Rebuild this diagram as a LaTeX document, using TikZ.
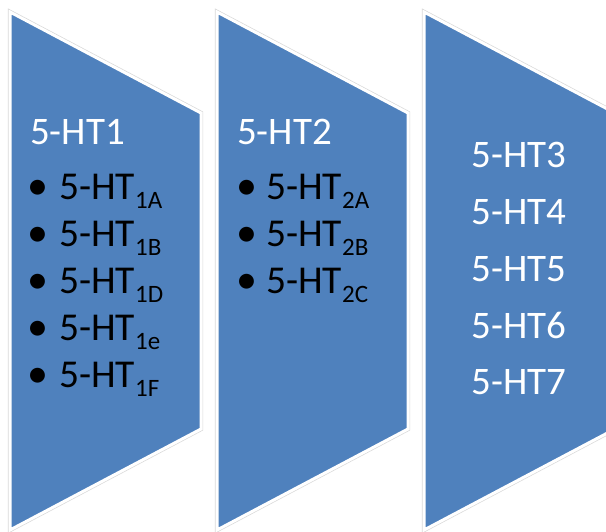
\documentclass[tikz,border=0pt]{standalone}
\usepackage{fontspec}
\setmainfont{Carlito}
\definecolor{htblue}{RGB}{79,129,189}
\newcommand{\htsub}[1]{\raisebox{-9pt}{\fontsize{25}{25}\selectfont #1}}

\begin{document}
\begin{tikzpicture}[x=1pt, y=-1pt,
  chevron/.style={fill=htblue, draw=white, line width=3pt, line join=miter},
  rim/.style={draw=black!15, line width=4.4pt, line join=miter},
  head/.style={inner sep=0pt, text=white, font=\fontsize{39}{39}\selectfont},
  item/.style={anchor=base west, inner sep=0pt, font=\fontsize{39.5}{39.5}\selectfont},
  dot/.style={anchor=base, inner sep=0pt, font=\fontsize{42}{42}\selectfont}
]
  \useasboundingbox (0,0) rectangle (606,532);
  \clip (0,0) rectangle (606,532);

  % the three chevrons
  \draw[rim] (10,12) -- (201,113) -- (201,429) -- (10,530) -- cycle;
  \draw[chevron] (10,12) -- (201,113) -- (201,429) -- (10,530) -- cycle;
  \draw[rim] (217,12) -- (408,113) -- (408,429) -- (217,530) -- cycle;
  \draw[chevron] (217,12) -- (408,113) -- (408,429) -- (217,530) -- cycle;
  \draw[rim] (424,12) -- (615,113) -- (615,429) -- (424,530) -- cycle;
  \draw[chevron] (424,12) -- (615,113) -- (615,429) -- (424,530) -- cycle;

  % 5-HT1 family
  \node[head, anchor=base west] (ht1) at (30,145) {5-HT1};
  \foreach \s [count=\i] in {1A,1B,1D,1e,1F} {
    \node[dot] (b1-\i) at (38,{200+46.8*(\i-1)}) {•};
    \node[item] (t1-\i) at (59,{200+46.8*(\i-1)}) {5-HT\htsub{\s}};
  }

  % 5-HT2 family
  \node[head, anchor=base west] (ht2) at (237,145) {5-HT2};
  \foreach \s [count=\i] in {2A,2B,2C} {
    \node[dot] (b2-\i) at (247,{200+46.8*(\i-1)}) {•};
    \node[item] (t2-\i) at (266,{200+46.8*(\i-1)}) {5-HT\htsub{\s}};
  }

  % other receptors
  \foreach \n [count=\i] in {3,4,5,6,7}
    \node[head, anchor=base] (ht\n) at (519,{168+56.7*(\i-1)}) {5-HT\n};
\end{tikzpicture}
\end{document}
